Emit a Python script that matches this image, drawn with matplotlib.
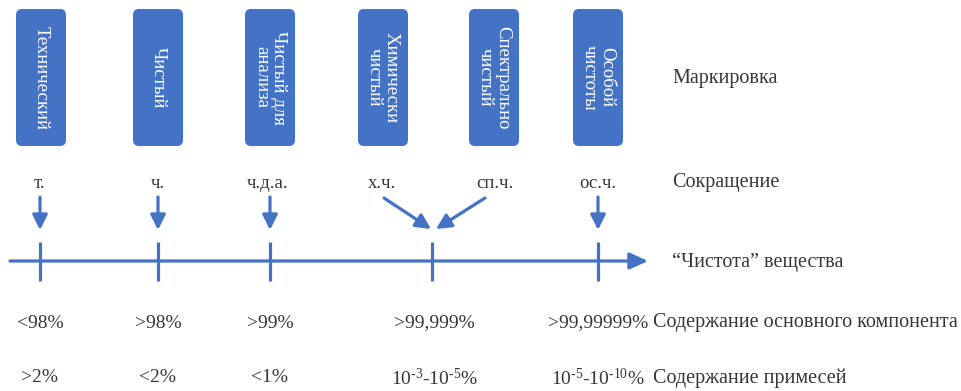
import matplotlib
matplotlib.use("Agg")
import matplotlib.pyplot as plt
from matplotlib.patches import FancyBboxPatch, FancyArrowPatch

plt.rcParams['font.family'] = ['Liberation Serif', 'DejaVu Serif']
plt.rcParams['mathtext.fontset'] = 'custom'
plt.rcParams['mathtext.rm'] = 'Liberation Serif'
plt.rcParams['mathtext.it'] = 'Liberation Serif'
plt.rcParams['mathtext.bf'] = 'Liberation Serif'

# ---- data ----
grades = ["Технический", "Чистый", "Чистый для\nанализа", "Химически\nчистый",
          "Спектрально\nчистый", "Особой\nчистоты"]
abbrevs = ["т.", "ч.", "ч.д.а.", "х.ч.", "сп.ч.", "ос.ч."]
main_content = ["<98%", ">98%", ">99%", ">99,999%", ">99,99999%"]
impurities = [">2%", "<2%", "<1%", r"10$^{\text{-3}}$-10$^{\text{-5}}$%",
              r"10$^{\text{-5}}$-10$^{\text{-10}}$%"]
row_labels = ["Маркировка", "Сокращение", "“Чистота” вещества",
              "Содержание основного компонента", "Содержание примесей"]

# ---- layout ----
BLUE = "#4472C4"
TXT = "#363636"
box_x = [41, 158, 270, 383, 494, 598]
abbr_x = [40, 158, 268, 382, 495, 598]
tick_x = [40, 158, 270, 432, 598]
val_x = [40, 158, 270, 434, 598]
fs = 14.5
fs_val = 14
fs_box = 13.5

fig = plt.figure(figsize=(9.62, 3.91), dpi=100)
ax = fig.add_axes([0, 0, 1, 1])
ax.set_xlim(0, 962)
ax.set_ylim(391, 0)
ax.axis('off')

# boxes
bw, by0, by1 = 50, 9, 146
for x, g in zip(box_x, grades):
    ax.add_patch(FancyBboxPatch((x - bw / 2, by0), bw, by1 - by0,
                                boxstyle="round,pad=0,rounding_size=6",
                                fc=BLUE, ec="none"))
    ax.text(x, (by0 + by1) / 2, g, rotation=270, ha='center', va='center',
            color='white', fontsize=fs_box, linespacing=1.0, rotation_mode='anchor')

# abbreviations
for x, a in zip(abbr_x, abbrevs):
    ax.text(x, 184, a, ha='center', va='center', color=TXT, fontsize=fs_box)

def arrow(p0, p1, hl=0.9, hw=0.45, lw=2.3):
    ax.add_patch(FancyArrowPatch(p0, p1, arrowstyle=f"-|>,head_length={hl},head_width={hw}",
                                 mutation_scale=10, color=BLUE, lw=lw,
                                 shrinkA=0, shrinkB=0))

# vertical arrows
for x in [40, 158, 270, 598]:
    arrow((x, 197), (x, 230))
# converging arrows
arrow((384, 198), (431, 229))
arrow((485, 198), (436, 229))

# main axis
axis_y = 261
arrow((10, axis_y), (648, axis_y), hl=1.1, hw=0.5, lw=2.3)
for x in tick_x:
    ax.plot([x, x], [242, 281], color=BLUE, lw=2.3, solid_capstyle='butt')

# values
for x, v in zip(val_x, main_content):
    ax.text(x, 323, v, ha='center', va='center', color=TXT, fontsize=fs_val)
for x, v in zip(val_x, impurities):
    ax.text(x, 378, v, ha='center', va='center', color=TXT, fontsize=fs_val)

# row labels
label_pos = [(672, 78), (672, 183), (672, 262), (653, 323), (653, 378)]
for (x, y), t in zip(label_pos, row_labels):
    ax.text(x, y, t, ha='left', va='center', color=TXT, fontsize=fs)

fig.savefig("out.png", dpi=100, facecolor='white')
